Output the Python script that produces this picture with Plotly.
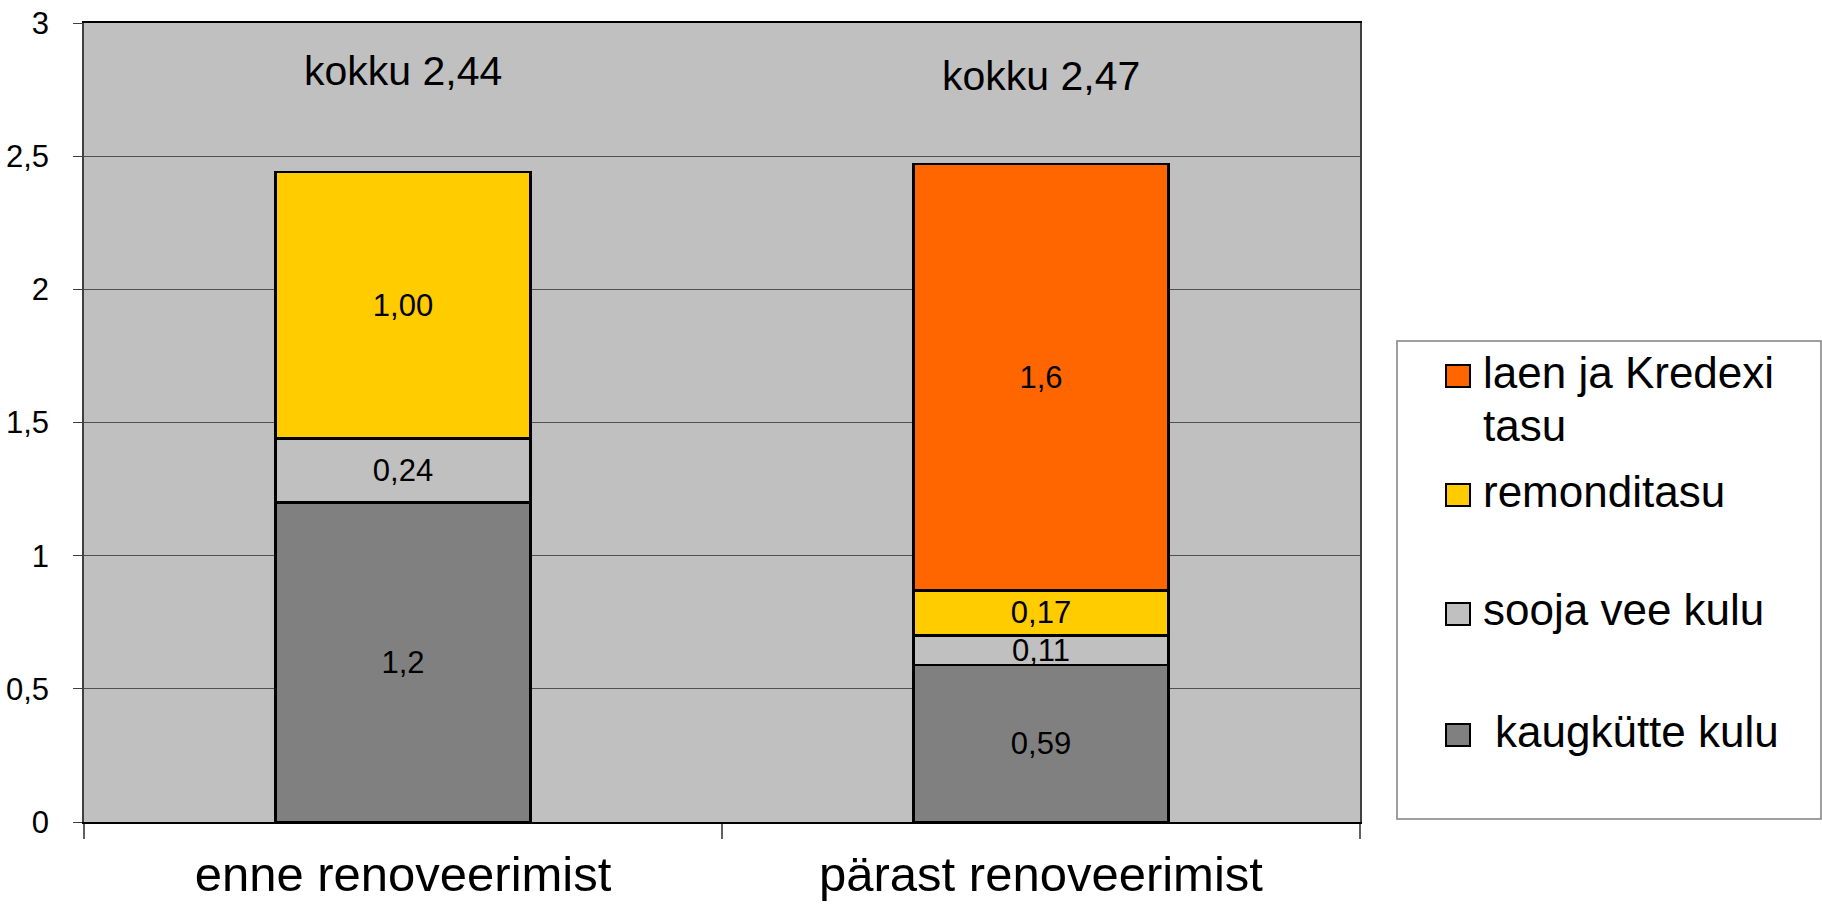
import plotly.graph_objects as go

categories = ["enne renoveerimist", "pärast renoveerimist"]

series_names = ["kaugkütte kulu", "sooja vee kulu", "remonditasu", "laen ja Kredexi tasu"]
kaugkutte = [1.2, 0.59]
sooja_vesi = [0.24, 0.11]
remonditasu = [1.00, 0.17]
laen = [None, 1.6]

kaugkutte_lbl = ["1,2", "0,59"]
sooja_lbl = ["0,24", "0,11"]
remont_lbl = ["1,00", "0,17"]
laen_lbl = ["", "1,6"]

colors = ["#808080", "#C0C0C0", "#FFCC00", "#FF6600"]

y_ticks = [0, 0.5, 1, 1.5, 2, 2.5, 3]

FONT = "Arial, Liberation Sans, Helvetica, sans-serif"

W, H = 1822, 908
L, R, T, B = 84, 462, 23, 86
PW, PH = W - L - R, H - T - B


def px_x(px):
    return (px - L) / PW


def px_y(py):
    return (H - B - py) / PH


fig = go.Figure()
vals = [kaugkutte, sooja_vesi, remonditasu, laen]
lbls = [kaugkutte_lbl, sooja_lbl, remont_lbl, laen_lbl]
for name, v, t, c in zip(series_names, vals, lbls, colors):
    fig.add_trace(go.Bar(
        x=categories, y=v, name=name, text=t,
        marker=dict(color=c, line=dict(color="black", width=2.5)),
        textposition="inside", insidetextanchor="middle",
        constraintext="none",
        textfont=dict(family=FONT, size=31, color="black"),
        showlegend=False, hoverinfo="skip",
    ))

totals = [sum(v[i] or 0 for v in vals) for i in range(len(categories))]

annotations = []
tot_y = [2.818, 2.80]
for i, cat in enumerate(categories):
    annotations.append(dict(
        x=cat, y=tot_y[i], xref="x", yref="y",
        text="kokku " + f"{totals[i]:.2f}".replace(".", ","),
        showarrow=False, xanchor="center", yanchor="middle",
        font=dict(family=FONT, size=41, color="black"),
    ))

shapes = []
# legend box
shapes.append(dict(type="rect", xref="paper", yref="paper",
                   x0=px_x(1397), x1=px_x(1821), y0=px_y(819), y1=px_y(341),
                   line=dict(color="#808080", width=1.5), fillcolor="white", layer="below"))

legend_items = [
    ("laen ja Kredexi", colors[3], 376, 1481),
    ("remonditasu", colors[2], 495, 1481),
    ("sooja vee kulu", colors[1], 614, 1481),
    ("kaugkütte kulu", colors[0], 735, 1493),
]
for text, col, cy, tx in legend_items:
    shapes.append(dict(type="rect", xref="paper", yref="paper",
                       x0=px_x(1446), x1=px_x(1470), y0=px_y(cy + 11), y1=px_y(cy - 11),
                       line=dict(color="black", width=2), fillcolor=col))
    annotations.append(dict(
        x=px_x(tx), y=px_y(cy - 4), xref="paper", yref="paper",
        text=text, showarrow=False, xanchor="left", yanchor="middle",
        font=dict(family=FONT, size=44, color="black"),
    ))
annotations.append(dict(
    x=px_x(1481), y=px_y(429 - 4), xref="paper", yref="paper",
    text="tasu", showarrow=False, xanchor="left", yanchor="middle",
    font=dict(family=FONT, size=44, color="black"),
))

fig.update_layout(
    width=W, height=H,
    margin=dict(l=L, r=R, t=T, b=B, pad=0),
    barmode="stack", bargap=0.6,
    paper_bgcolor="white", plot_bgcolor="#C0C0C0",
    separators=", ",
    font=dict(family=FONT, color="black"),
    showlegend=False,
    annotations=annotations, shapes=shapes,
    xaxis=dict(
        type="category", tickson="boundaries", ticks="outside", ticklen=15,
        tickcolor="#606060", tickwidth=2, automargin=False,
        showline=True, linecolor="black", linewidth=2, mirror=True,
        showgrid=False, tickfont=dict(family=FONT, size=49, color="black"),
        ticklabelstandoff=8,
    ),
    yaxis=dict(
        range=[0, 3], tickvals=y_ticks, ticks="outside", ticklen=9,
        tickcolor="#404040", tickwidth=1, automargin=False,
        showline=True, linecolor="#404040", linewidth=1.5, mirror=True,
        showgrid=True, gridcolor="#505050", gridwidth=1, zeroline=False,
        tickfont=dict(family=FONT, size=31, color="black"),
        ticklabelstandoff=18,
    ),
)

fig.write_html(
    "out.html",
    config={"displayModeBar": False},
    post_script="document.body.style.margin='0';document.body.style.overflow='hidden';",
)
